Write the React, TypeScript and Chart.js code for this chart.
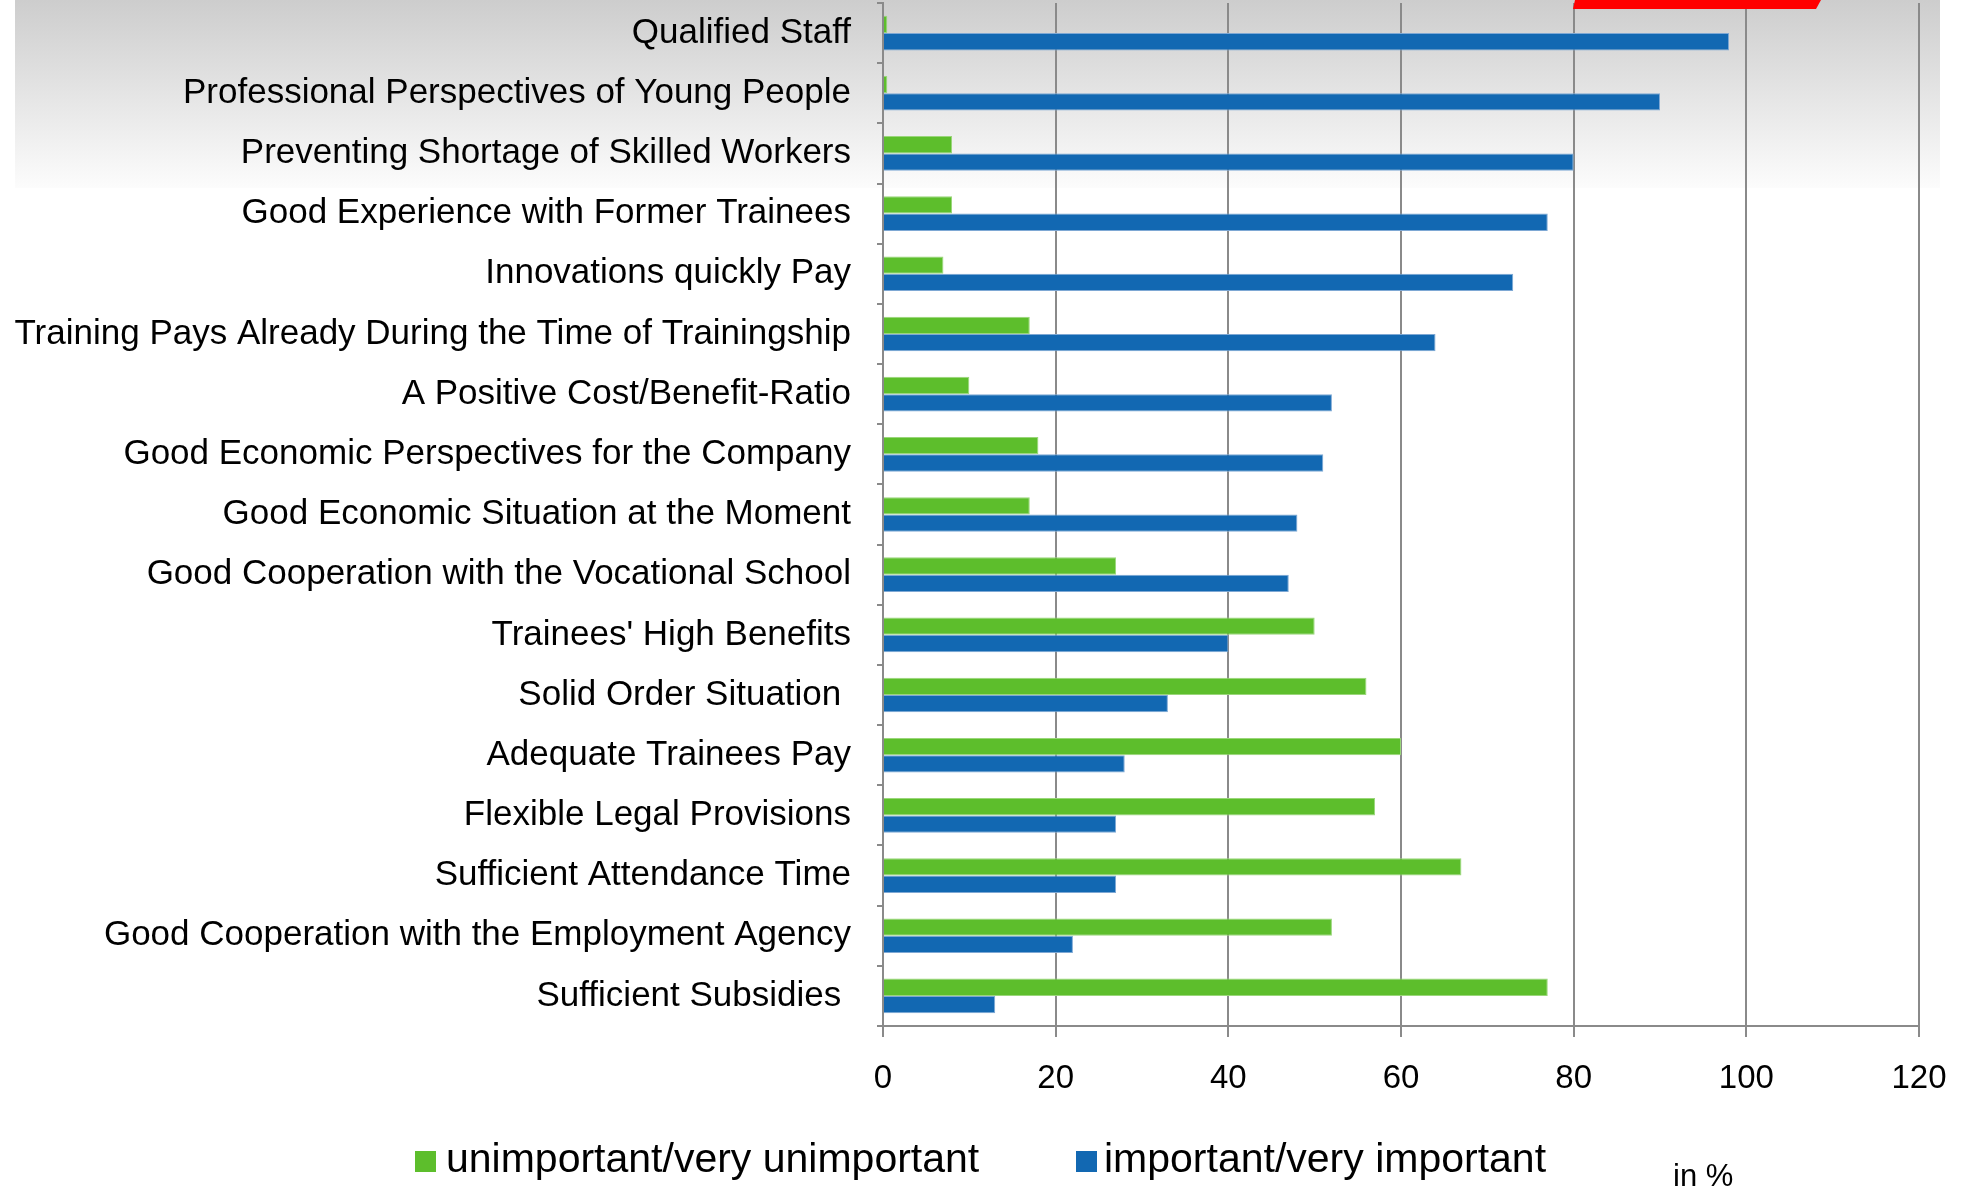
import React, { useEffect, useRef } from "react";
import { Chart, registerables } from "chart.js";

Chart.register(...registerables);

const categories: string[] = [
  "Qualified Staff",
  "Professional Perspectives of Young People",
  "Preventing Shortage of Skilled Workers",
  "Good Experience with Former Trainees",
  "Innovations quickly Pay",
  "Training Pays Already During the Time of Trainingship",
  "A Positive Cost/Benefit-Ratio",
  "Good Economic Perspectives for the Company",
  "Good Economic Situation at the Moment",
  "Good Cooperation with the Vocational School",
  "Trainees' High Benefits",
  "Solid Order Situation ",
  "Adequate Trainees Pay",
  "Flexible Legal Provisions",
  "Sufficient Attendance Time",
  "Good Cooperation with the Employment Agency",
  "Sufficient Subsidies ",
];

const unimportantLabel = "unimportant/very unimportant";
const unimportantValues: number[] = [0.5, 0.5, 8, 8, 7, 17, 10, 18, 17, 27, 50, 56, 60, 57, 67, 52, 77];

const importantLabel = "important/very important";
const importantValues: number[] = [98, 90, 80, 77, 73, 64, 52, 51, 48, 47, 40, 33, 28, 27, 27, 22, 13];

const xTicks: number[] = [0, 20, 40, 60, 80, 100, 120];
const unitNote = "in %";

const GREEN = "#5dbe2c";
const GREEN_EDGE = "#9ad67a";
const BLUE = "#1268b2";
const BLUE_EDGE = "#7ea8d4";
const GRID = "#8a8a8a";
const FONT = "'Liberation Sans', Arial, sans-serif";

const W = 1967;
const H = 1188;

const decorPlugin = {
  id: "decor",
  beforeDraw(chart: any) {
    const ctx = chart.ctx;
    ctx.save();
    const g = ctx.createLinearGradient(0, 0, 0, 188);
    g.addColorStop(0, "#cdcdcd");
    g.addColorStop(1, "#fcfcfc");
    ctx.fillStyle = g;
    ctx.fillRect(15, 0, 1925, 188);
    ctx.restore();
  },
  afterDraw(chart: any) {
    const ctx = chart.ctx;
    ctx.save();
    // red decoration at top
    ctx.fillStyle = "#ff0000";
    ctx.beginPath();
    ctx.moveTo(1575, 0);
    ctx.lineTo(1821, 0);
    ctx.lineTo(1816, 9);
    ctx.lineTo(1573, 9);
    ctx.closePath();
    ctx.fill();

    // legend
    const ds = chart.data.datasets;
    const items = [
      { box: 415, text: 446 },
      { box: 1076, text: 1104 },
    ];
    ctx.font = `41px ${FONT}`;
    ctx.textBaseline = "alphabetic";
    ctx.textAlign = "left";
    ds.forEach((d: any, i: number) => {
      const it = items[i];
      ctx.fillStyle = d.backgroundColor;
      ctx.fillRect(it.box, 1151, 21, 21);
      ctx.fillStyle = "#000";
      ctx.fillText(d.label, it.text, 1172);
    });
    ctx.font = `31px ${FONT}`;
    ctx.fillStyle = "#000";
    ctx.fillText(unitNote, 1673, 1186);
    ctx.restore();
  },
};

export default function App() {
  const ref = useRef<HTMLCanvasElement | null>(null);

  useEffect(() => {
    if (!ref.current) return;
    const chart = new Chart(ref.current, {
      type: "bar",
      data: {
        labels: categories,
        datasets: [
          {
            label: unimportantLabel,
            data: unimportantValues,
            backgroundColor: GREEN,
            borderColor: GREEN_EDGE,
            borderWidth: 1,
            barPercentage: 1,
            categoryPercentage: 0.576,
          },
          {
            label: importantLabel,
            data: importantValues,
            backgroundColor: BLUE,
            borderColor: BLUE_EDGE,
            borderWidth: 1,
            barPercentage: 1,
            categoryPercentage: 0.576,
          },
        ],
      },
      options: {
        indexAxis: "y",
        responsive: false,
        animation: false,
        devicePixelRatio: 1,
        layout: { padding: { top: 3, left: 0, right: 48, bottom: 0 } },
        plugins: {
          legend: { display: false },
          tooltip: { enabled: false },
        },
        scales: {
          x: {
            type: "linear",
            min: 0,
            max: 120,
            afterBuildTicks: (scale: any) => {
              scale.ticks = xTicks.map((v) => ({ value: v }));
            },
            afterFit: (scale: any) => {
              scale.height = H - 1026;
              scale.paddingLeft = 0;
              scale.paddingRight = 0;
            },
            ticks: {
              color: "#000",
              font: { family: FONT, size: 33 },
              padding: 22,
              maxRotation: 0,
            },
            grid: {
              color: GRID,
              lineWidth: 2,
              tickLength: 11,
              drawTicks: true,
            },
            border: { display: true, color: GRID, width: 2 },
          },
          y: {
            type: "category",
            afterFit: (scale: any) => {
              scale.width = 883;
              scale.paddingTop = 0;
              scale.paddingBottom = 0;
            },
            ticks: {
              color: "#000",
              font: { family: FONT, size: 35 },
              padding: 26,
              autoSkip: false,
            },
            grid: {
              drawOnChartArea: false,
              drawTicks: true,
              tickLength: 6,
              color: GRID,
              lineWidth: 2,
              offset: true,
            },
            border: { display: true, color: GRID, width: 2 },
          },
        },
      },
      plugins: [decorPlugin],
    } as any);
    return () => chart.destroy();
  }, []);

  return (
    <div style={{ position: "fixed", left: 0, top: 0, width: W, height: H, background: "#fff" }}>
      <canvas ref={ref} width={W} height={H} style={{ display: "block", width: W, height: H }} />
    </div>
  );
}
